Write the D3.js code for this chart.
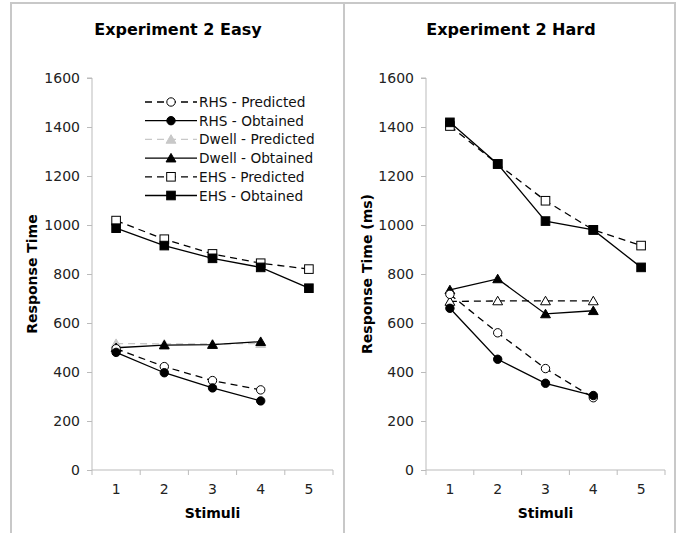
<!DOCTYPE html>
<html><head><meta charset="utf-8">
<script src="https://cdn.jsdelivr.net/npm/d3@7"></script>
<style>body{margin:0;background:#fff}svg{display:block}</style>
</head><body>
<svg id="c" width="680" height="533"></svg>
<script>
const stimuli = [1, 2, 3, 4, 5];
const yTicks = [0, 200, 400, 600, 800, 1000, 1200, 1400, 1600];
const seriesNames = ["RHS - Predicted", "RHS - Obtained", "Dwell - Predicted", "Dwell - Obtained", "EHS - Predicted", "EHS - Obtained"];

// Experiment 2 Easy
const easyRhsPred   = [495, 422, 365, 327];
const easyRhsObt    = [480, 397, 335, 282];
const easyDwellPred = [516, 515, 515, 516];
const easyDwellObt  = [499, 510, 512, 524];
const easyEhsPred   = [1018, 942, 882, 844, 820];
const easyEhsObt    = [987, 916, 864, 827, 742];

// Experiment 2 Hard
const hardRhsPred   = [717, 560, 414, 295];
const hardRhsObt    = [660, 452, 354, 304];
const hardDwellPred = [688, 690, 690, 690];
const hardDwellObt  = [735, 780, 637, 650];
const hardEhsPred   = [1404, 1249, 1099, 980, 916];
const hardEhsObt    = [1419, 1249, 1016, 980, 827];

const FONT = "DejaVu Sans, Verdana, sans-serif";
const svg = d3.select("#c");

// frames
svg.append("rect").attr("x", 11).attr("y", 3).attr("width", 333).attr("height", 540)
  .attr("fill", "none").attr("stroke", "#c8c8c8").attr("stroke-width", 2);
svg.append("rect").attr("x", 344).attr("y", 3).attr("width", 331).attr("height", 540)
  .attr("fill", "none").attr("stroke", "#c8c8c8").attr("stroke-width", 2);

function styleFor(i, easy) {
  const dashed = (i % 2 === 0);
  const kind = ["circle", "circle", "triangle", "triangle", "square", "square"][i];
  let stroke = "#000", fill = dashed ? "#fff" : "#000";
  if (i === 2 && easy) { stroke = "#c8c8c8"; fill = "#c8c8c8"; }
  return {dashed, kind, stroke, fill};
}

function marker(g, kind, x, y, st) {
  const edge = st.fill === "#fff" ? "#000" : st.stroke;
  if (kind === "circle") {
    g.append("circle").attr("cx", x).attr("cy", y).attr("r", 4.2)
      .attr("fill", st.fill).attr("stroke", edge).attr("stroke-width", 1);
  } else if (kind === "square") {
    g.append("rect").attr("x", x - 4.3).attr("y", y - 4.3).attr("width", 8.6).attr("height", 8.6)
      .attr("fill", st.fill).attr("stroke", edge).attr("stroke-width", 1);
  } else {
    const s = d3.symbol().type(d3.symbolTriangle).size(42)();
    g.append("path").attr("d", s).attr("transform", `translate(${x},${y + 1})`)
      .attr("fill", st.fill).attr("stroke", edge).attr("stroke-width", 1);
  }
}

function panel(opts) {
  const {left, right, title, titleX, ylabel, ylabelX, data, easy, legend} = opts;
  const top = 78, bottom = 470;
  const x = d3.scaleBand().domain(stimuli).range([left, right]);
  const y = d3.scaleLinear().domain([0, 1600]).range([bottom, top]);
  const g = svg.append("g");

  g.append("text").attr("x", titleX).attr("y", 35).attr("text-anchor", "middle")
    .attr("font-family", FONT).attr("font-weight", "bold").attr("font-size", 16).text(title);

  const yAxis = g.append("g").attr("transform", `translate(${left},0)`)
    .call(d3.axisLeft(y).tickValues(yTicks).tickSize(5).tickPadding(7).tickFormat(d3.format("d")));
  const xAxis = g.append("g").attr("transform", `translate(0,${bottom})`)
    .call(d3.axisBottom(x).tickSize(0).tickPadding(14));
  const bounds = stimuli.map(d => x(d)).concat([right]);
  xAxis.selectAll(".bt").data(bounds).enter().append("line")
    .attr("x1", d => d).attr("x2", d => d).attr("y1", 0).attr("y2", 5);
  [yAxis, xAxis].forEach(a => {
    a.attr("font-size", 14).attr("font-family", FONT);
    a.selectAll("line").attr("stroke", "#bbb");
    a.selectAll(".domain").attr("stroke", "#bbb").attr("stroke-width", 1);
    a.selectAll("text").attr("font-family", FONT).attr("font-size", 14).attr("fill", "#222");
  });
  yAxis.select(".domain").attr("d", `M-5,${top}H0V${bottom}`);
  xAxis.select(".domain").attr("d", `M${left},0H${right}`);

  g.append("text").attr("x", (left + right) / 2).attr("y", 518).attr("text-anchor", "middle")
    .attr("font-family", FONT).attr("font-weight", "bold").attr("font-size", 14).text("Stimuli");
  g.append("text").attr("transform", `translate(${ylabelX},${(top + bottom) / 2}) rotate(-90)`)
    .attr("text-anchor", "middle").attr("font-family", FONT).attr("font-weight", "bold")
    .attr("font-size", 14).text(ylabel);

  const line = d3.line().x((d, i) => x(stimuli[i]) + x.bandwidth() / 2).y(d => y(d));
  const order = [2, 3, 0, 1, 4, 5];
  order.forEach(i => {
    const st = styleFor(i, easy);
    const vals = data[i];
    g.append("path").attr("d", line(vals)).attr("fill", "none")
      .attr("stroke", st.stroke).attr("stroke-width", 1.3)
      .attr("stroke-dasharray", st.dashed ? "7,5" : null);
    vals.forEach((v, j) => marker(g, st.kind, x(stimuli[j]) + x.bandwidth() / 2, y(v), st));
  });

  if (legend) {
    const lg = g.append("g");
    seriesNames.forEach((name, i) => {
      const st = styleFor(i, easy);
      const yy = 102 + i * 18.7;
      lg.append("line").attr("x1", 145).attr("x2", 197).attr("y1", yy).attr("y2", yy)
        .attr("stroke", st.stroke).attr("stroke-width", 1.3)
        .attr("stroke-dasharray", st.dashed ? "7,5" : null);
      marker(lg, st.kind, 171, yy, st);
      lg.append("text").attr("x", 199).attr("y", yy + 5).attr("font-family", FONT)
        .attr("font-size", 13.7).attr("fill", "#111").text(name);
    });
  }
}

panel({left: 92, right: 333, title: "Experiment 2 Easy", titleX: 178, ylabel: "Response Time", ylabelX: 37,
  data: [easyRhsPred, easyRhsObt, easyDwellPred, easyDwellObt, easyEhsPred, easyEhsObt], easy: true, legend: true});
panel({left: 426, right: 665, title: "Experiment 2 Hard", titleX: 511, ylabel: "Response Time (ms)", ylabelX: 372,
  data: [hardRhsPred, hardRhsObt, hardDwellPred, hardDwellObt, hardEhsPred, hardEhsObt], easy: false, legend: false});
</script>
</body></html>
